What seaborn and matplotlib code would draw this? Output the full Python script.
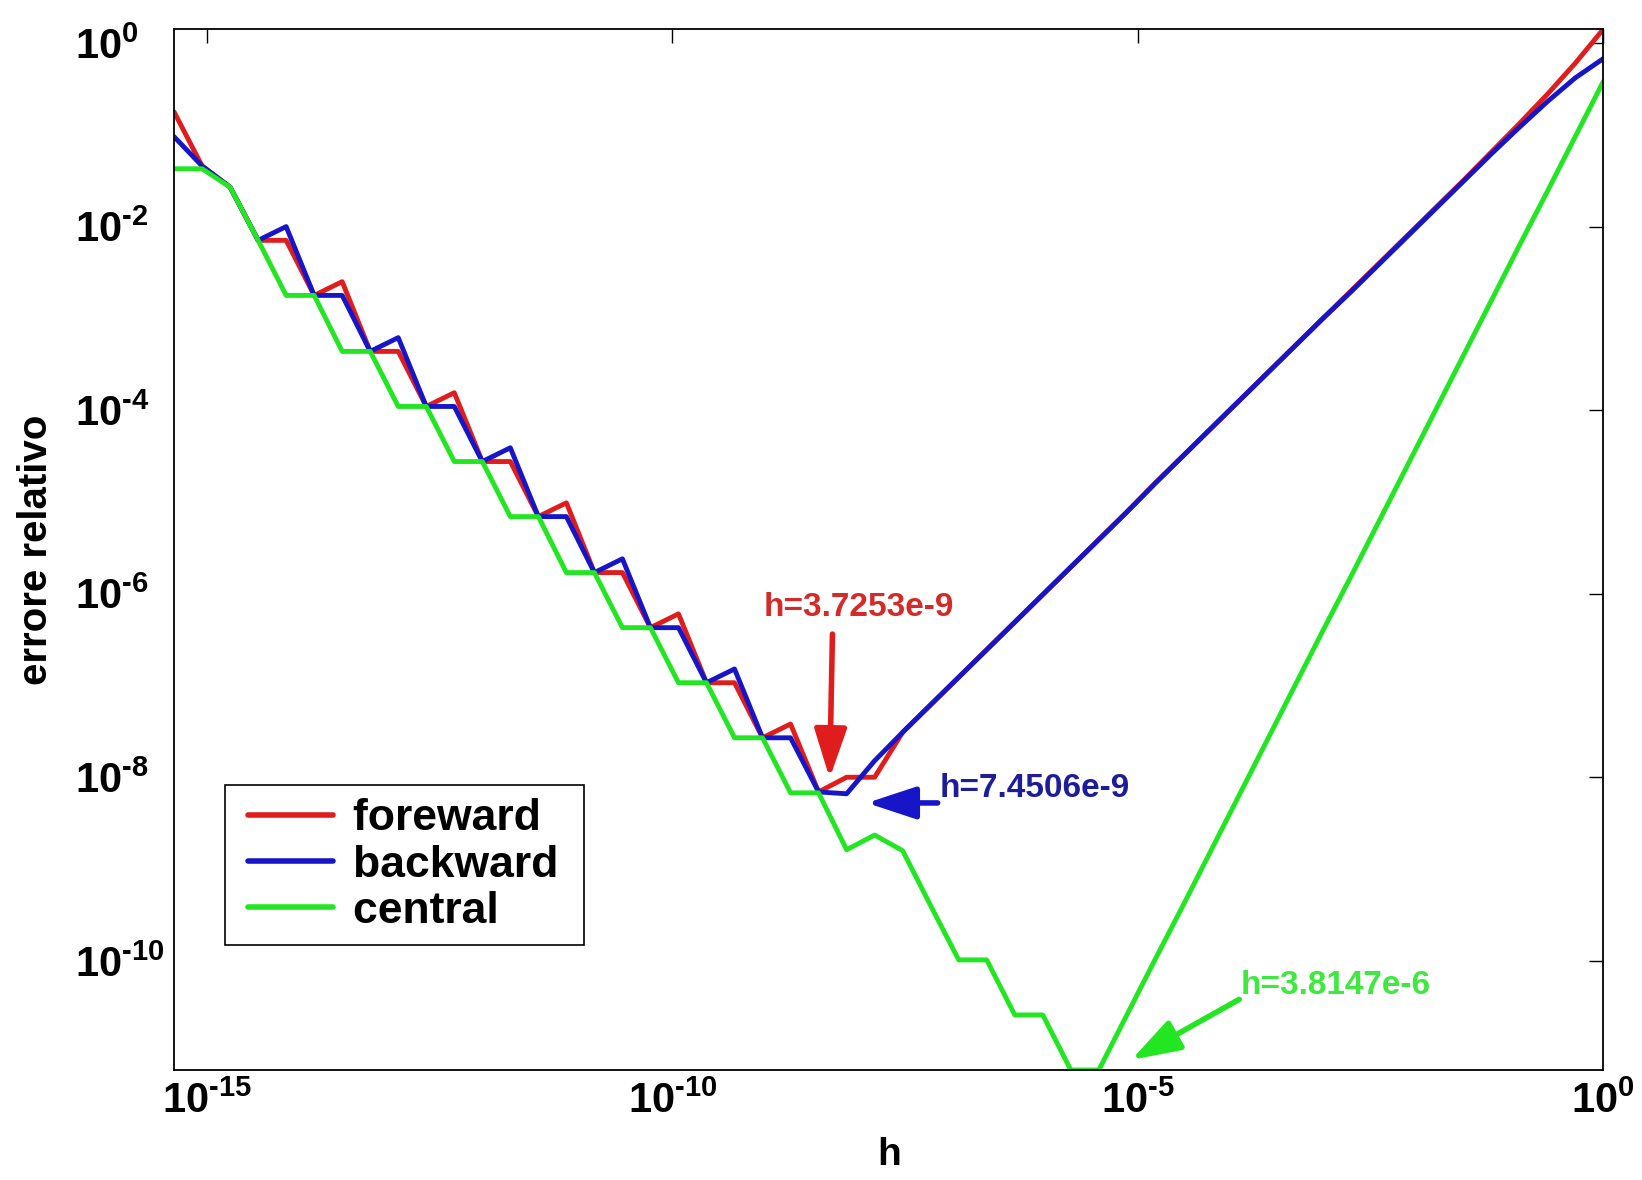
import numpy as np
import pandas as pd
import matplotlib
matplotlib.use('Agg')
import matplotlib.pyplot as plt
import seaborn as sns
from matplotlib.ticker import FixedLocator, FuncFormatter, NullLocator

# passo h = 2^-k, k = 0..51
esponenti = list(range(0, 52))

# log10 dell'errore relativo (indice = k)
log_err_forward = [0.15, -0.22, -0.56, -0.88, -1.19, -1.50, -1.80, -2.10, -2.40, -2.70,
                   -3.00, -3.30, -3.60, -3.90, -4.20, -4.50, -4.80, -5.11, -5.41, -5.71,
                   -6.01, -6.31, -6.61, -6.91, -7.21, -7.51, -8.00, -8.00, -8.16, -7.42,
                   -7.57, -6.97, -6.97, -6.22, -6.37, -5.77, -5.77, -5.01, -5.16, -4.56,
                   -4.56, -3.81, -3.96, -3.36, -3.36, -2.60, -2.75, -2.15, -2.15, -1.57,
                   -1.34, -0.75]
log_err_backward = [-0.17, -0.38, -0.64, -0.92, -1.21, -1.51, -1.81, -2.11, -2.41, -2.71,
                    -3.00, -3.30, -3.60, -3.90, -4.20, -4.50, -4.80, -5.11, -5.41, -5.71,
                    -6.01, -6.31, -6.61, -6.91, -7.21, -7.51, -7.82, -8.18, -8.16, -7.57,
                    -7.57, -6.82, -6.97, -6.37, -6.37, -5.62, -5.77, -5.16, -5.16, -4.41,
                    -4.56, -3.96, -3.96, -3.21, -3.36, -2.75, -2.75, -2.00, -2.15, -1.57,
                    -1.34, -1.02]
log_err_central = [-0.42, -1.02, -1.62, -2.21, -2.81, -3.41, -4.01, -4.61, -5.21, -5.81,
                   -6.40, -7.00, -7.60, -8.20, -8.80, -9.40, -9.99, -10.59, -11.19, -11.19,
                   -10.59, -10.59, -9.99, -9.99, -9.40, -8.80, -8.63, -8.79, -8.17, -8.17,
                   -7.57, -7.57, -6.97, -6.97, -6.37, -6.37, -5.77, -5.77, -5.16, -5.16,
                   -4.56, -4.56, -3.96, -3.96, -3.36, -3.36, -2.75, -2.75, -2.15, -1.57,
                   -1.37, -1.37]

metodi = ['foreward', 'backward', 'central']
colori = ['#e01c1c', '#1616c8', '#22e622']

h = [2.0 ** -k for k in esponenti]
df = pd.concat([
    pd.DataFrame({'h': h, 'errore': np.power(10.0, log_err_forward), 'metodo': 'foreward'}),
    pd.DataFrame({'h': h, 'errore': np.power(10.0, log_err_backward), 'metodo': 'backward'}),
    pd.DataFrame({'h': h, 'errore': np.power(10.0, log_err_central), 'metodo': 'central'}),
], ignore_index=True)

sns.set_style('white')
plt.rcParams['font.family'] = ['Liberation Sans', 'DejaVu Sans']
plt.rcParams['font.weight'] = 'bold'
plt.rcParams['axes.labelweight'] = 'bold'
plt.rcParams['text.color'] = 'black'
plt.rcParams['axes.labelcolor'] = 'black'
plt.rcParams['mathtext.fontset'] = 'custom'
plt.rcParams['mathtext.rm'] = 'Liberation Sans:bold'
plt.rcParams['mathtext.bf'] = 'Liberation Sans:bold'
plt.rcParams['mathtext.it'] = 'Liberation Sans:bold'

fig = plt.figure(figsize=(16.42, 11.8), dpi=100)
ax = fig.add_axes([0.106, 0.0932, 0.8704, 0.882])

sns.lineplot(data=df, x='h', y='errore', hue='metodo', hue_order=metodi,
             palette=colori, sort=False, estimator=None, linewidth=3.5, ax=ax)

ax.set_xscale('log')
ax.set_yscale('log')
ax.set_xlim(min(h), max(h))
ax.set_ylim(df['errore'].min(), df['errore'].max())

ax.xaxis.set_major_locator(FixedLocator([1e-15, 1e-10, 1e-5, 1e0]))
ax.yaxis.set_major_locator(FixedLocator([1e0, 1e-2, 1e-4, 1e-6, 1e-8, 1e-10]))
ax.xaxis.set_minor_locator(NullLocator())
ax.yaxis.set_minor_locator(NullLocator())


def etichetta(v, pos):
    e = int(round(np.log10(v)))
    return r'$10^{%s}$' % str(e).replace('-', '\u2010')


ax.xaxis.set_major_formatter(FuncFormatter(etichetta))
ax.yaxis.set_major_formatter(FuncFormatter(etichetta))

ax.tick_params(which='both', direction='in', length=10, width=1,
               top=True, right=True, colors='black', labelsize=30)
ax.tick_params(axis='x', pad=8)
ax.tick_params(axis='y', pad=71)
for sp in ax.spines.values():
    sp.set_color('black')
    sp.set_linewidth(1.3)

ax.set_xlabel('h', fontsize=28, fontweight='bold', labelpad=11)
ax.set_ylabel('errore relativo', fontsize=29, fontweight='bold', labelpad=15)

handles, _ = ax.get_legend_handles_labels()
leg = ax.legend(handles, [m + ' ' for m in metodi], loc='upper left',
                bbox_to_anchor=(0.0357, 0.274), borderaxespad=0,
                handlelength=2.12, handletextpad=0.45, labelspacing=0.12,
                borderpad=0.3, fancybox=False, framealpha=1, edgecolor='black',
                prop={'weight': 'bold', 'size': 32})
leg.get_frame().set_linewidth(1.2)
for line in leg.get_lines():
    line.set_linewidth(4)
    xd = np.array(line.get_xdata(), dtype=float)
    xd[0] += 7
    line.set_xdata(xd)
for t in leg.get_texts():
    t.set_color('black')

# annotazioni dei minimi
freccia = dict(arrowstyle='-|>,head_length=1.15,head_width=0.38', lw=4, mutation_scale=26,
               shrinkA=0, shrinkB=0)
ax.annotate('', xy=(10 ** -8.31, 10 ** -8.01), xytext=(10 ** -8.28, 10 ** -6.44),
            arrowprops=dict(freccia, color='#e01c1c'))
ax.text(10 ** -8.0, 10 ** -6.15, 'h=3.7253e-9', color='#d42a2a', fontsize=24,
        fontweight='bold', ha='center', va='center')

ax.annotate('', xy=(10 ** -7.91, 10 ** -8.28), xytext=(10 ** -7.15, 10 ** -8.28),
            arrowprops=dict(freccia, color='#1616c8'))
ax.text(10 ** -7.13, 10 ** -8.12, 'h=7.4506e-9', color='#1d1d9c', fontsize=24,
        fontweight='bold', ha='left', va='center')

ax.annotate('', xy=(10 ** -5.07, 10 ** -11.08), xytext=(10 ** -3.91, 10 ** -10.42),
            arrowprops=dict(freccia, color='#22e622'))
ax.text(10 ** -3.89, 10 ** -10.27, 'h=3.8147e-6', color='#3ee83e', fontsize=24,
        fontweight='bold', ha='left', va='center')

plt.setp(ax.get_yticklabels(), ha='left')

fig.savefig('out.png', dpi=100)
